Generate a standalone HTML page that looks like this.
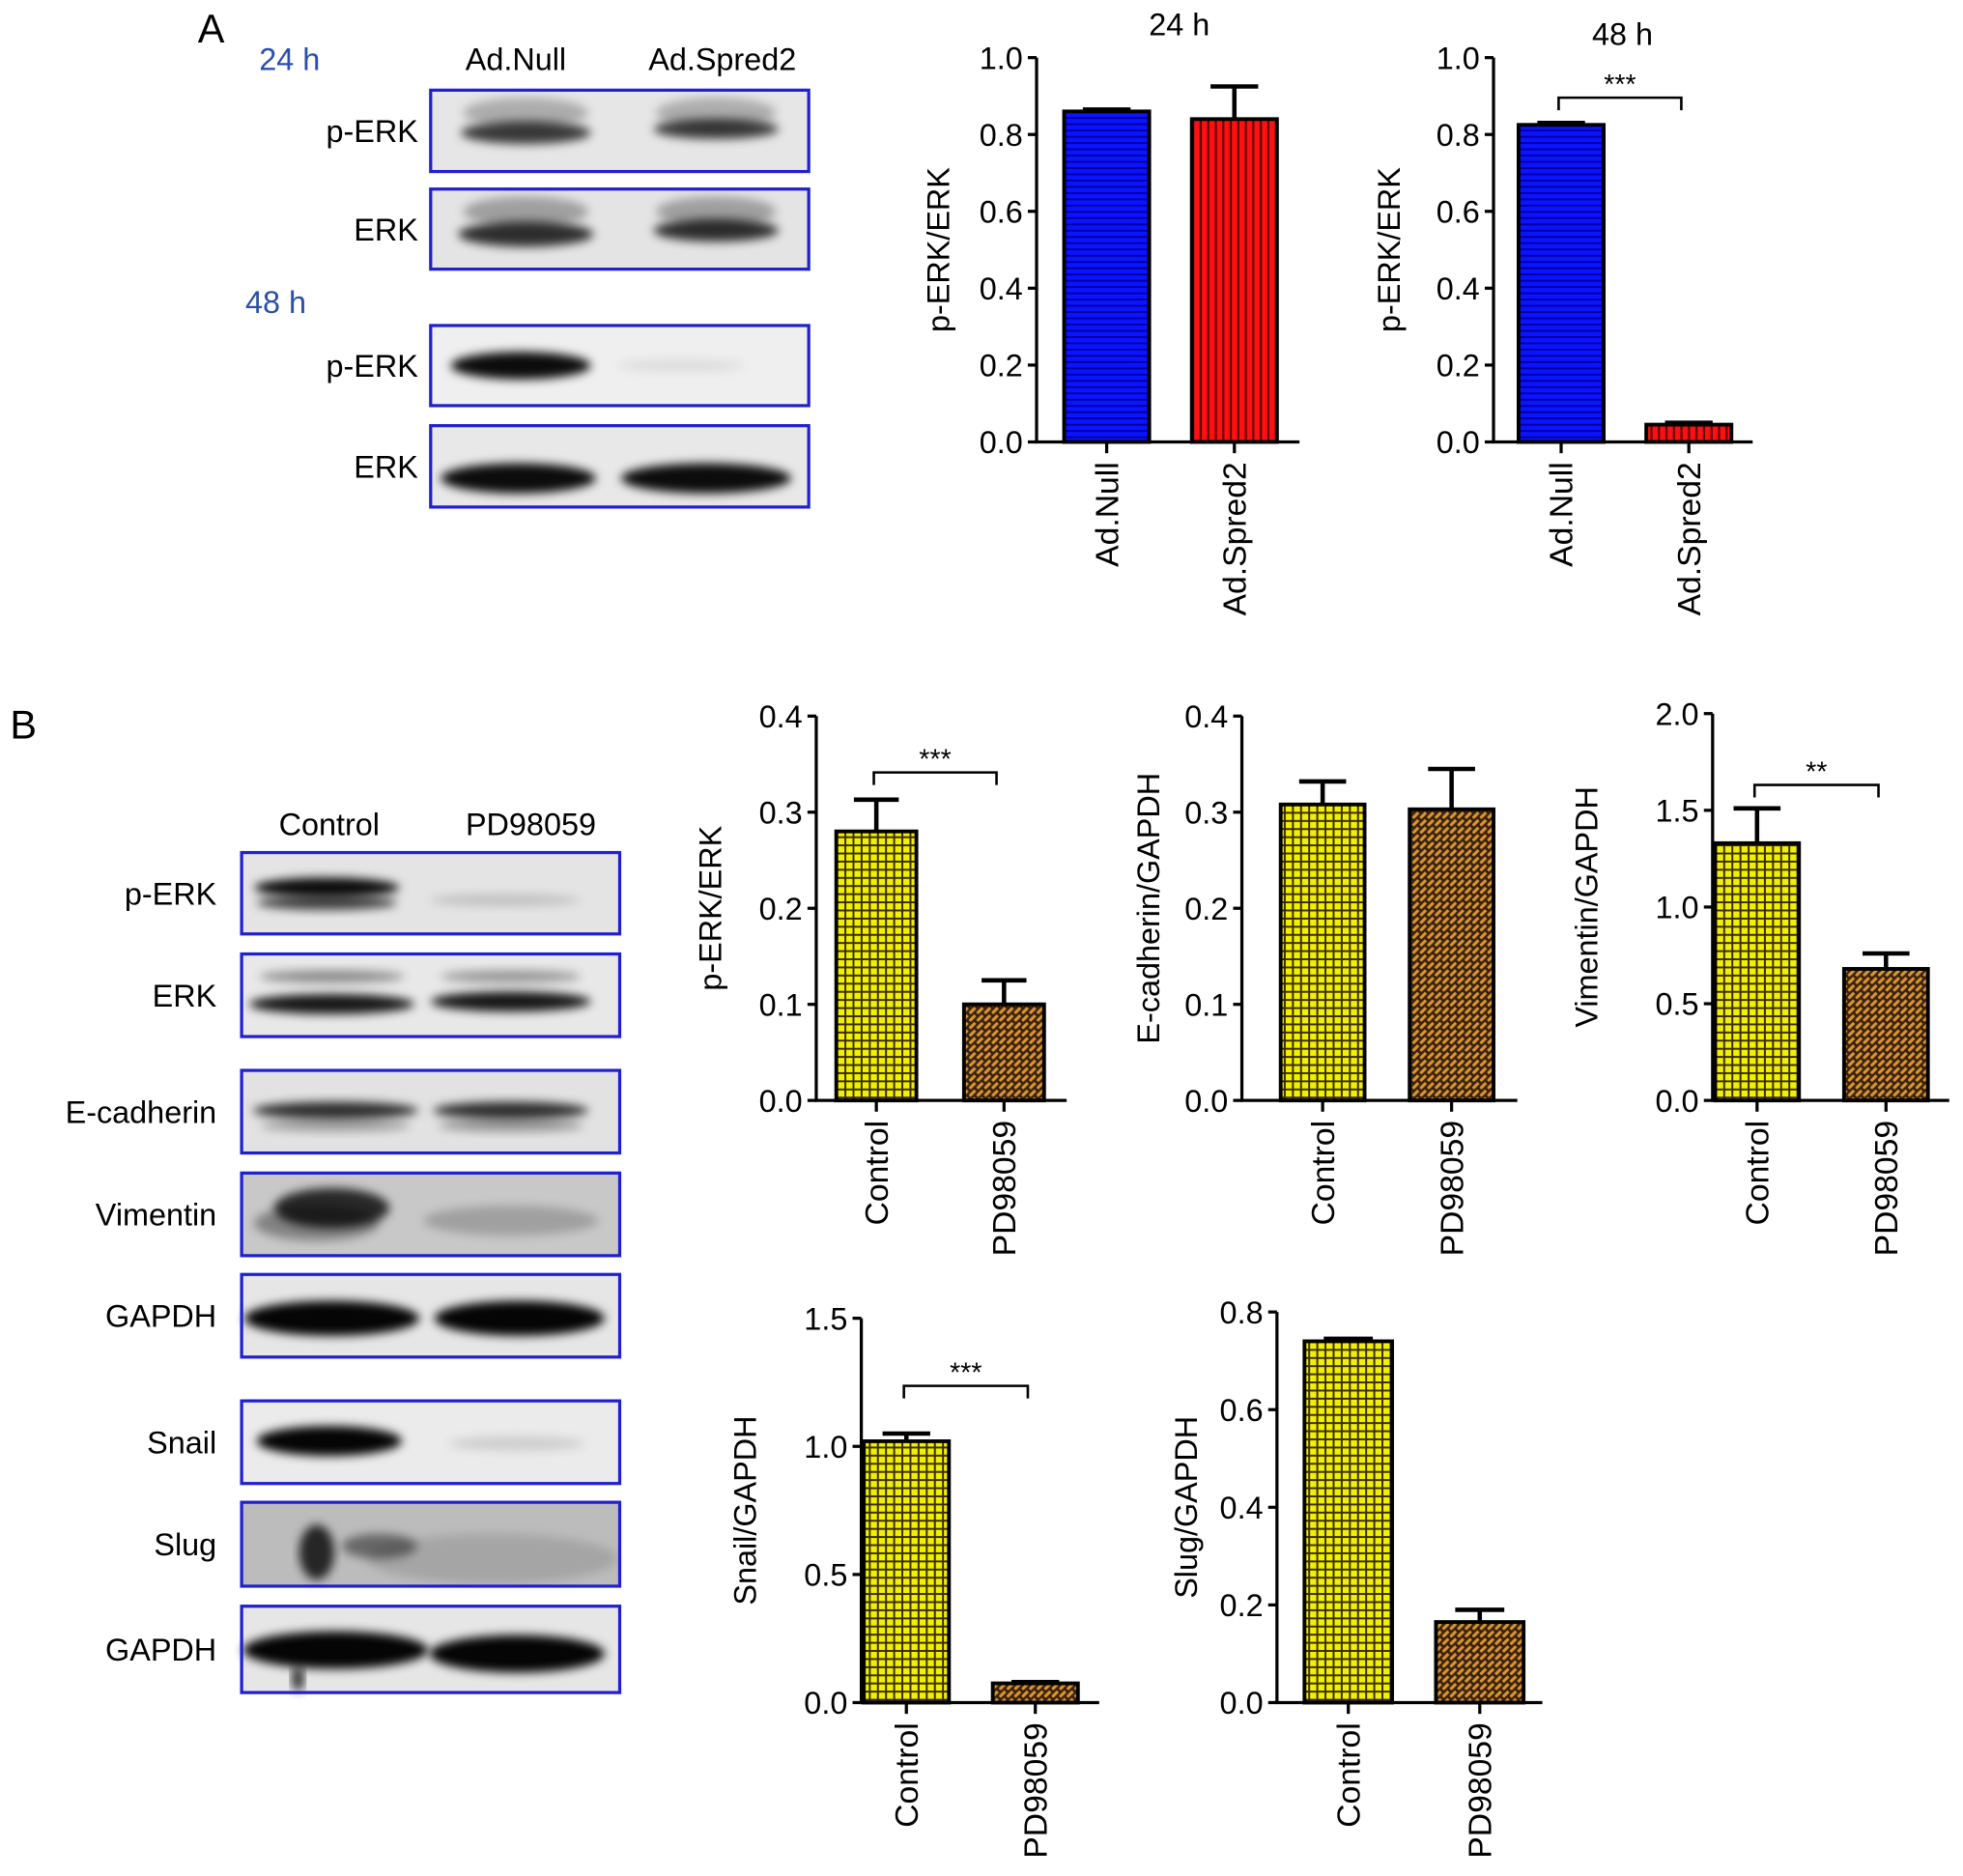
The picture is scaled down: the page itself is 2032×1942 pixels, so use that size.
<!DOCTYPE html>
<html><head><meta charset="utf-8"><style>
html,body{margin:0;padding:0;background:#fff}
svg{display:block;font-family:"Liberation Sans",Arial,sans-serif}
</style></head><body>
<svg id="fig" width="2032" height="1942" viewBox="0 0 1568 1498.5" xmlns="http://www.w3.org/2000/svg">
<defs>
<filter id="blur" x="-20%" y="-50%" width="140%" height="200%"><feGaussianBlur stdDeviation="4"/></filter>
<pattern id="pBlue" width="6" height="5" patternUnits="userSpaceOnUse"><rect width="6" height="5" fill="#0a14ff"/><rect y="3.5" width="6" height="1.5" fill="#0000a0"/></pattern>
<pattern id="pRed" width="6" height="6" patternUnits="userSpaceOnUse"><rect width="6" height="6" fill="#ff1010"/><rect x="4.3" width="1.7" height="6" fill="#600000"/></pattern>
<pattern id="pYellow" width="6.5" height="6.5" patternUnits="userSpaceOnUse"><rect width="6.5" height="6.5" fill="#f0f000"/><rect x="5" width="1.5" height="6.5" fill="#3a2a00"/><rect y="5" width="6.5" height="1.5" fill="#3a2a00"/></pattern>
<pattern id="pBrown" width="6" height="6" patternUnits="userSpaceOnUse"><rect width="6" height="6" fill="#3a2210"/><path d="M0.5,5.5 L5,1" stroke="#d9952e" stroke-width="2.4"/></pattern>
</defs>
<g id="blots"></g>
<g id="charts"></g>
</svg>
<script>
const NS="http://www.w3.org/2000/svg";
const svg=document.getElementById('fig');
const blotG=document.getElementById('blots');
const chartG=document.getElementById('charts');
function mk(tag,attrs,parent,text){const e=document.createElementNS(NS,tag);for(const k in attrs)e.setAttribute(k,attrs[k]);if(text!==undefined)e.textContent=text;(parent||svg).appendChild(e);return e;}

// ---- chart data ----
const catsA=["Ad.Null","Ad.Spred2"];
const catsB=["Control","PD98059"];
const valsA24=[0.86,0.84]; const errA24=[0.865,0.925];
const valsA48=[0.825,0.045]; const errA48=[0.83,0.05];
const valsB1=[0.28,0.10]; const errB1=[0.313,0.125];
const valsB2=[0.308,0.303]; const errB2=[0.332,0.345];
const valsB3=[1.33,0.68]; const errB3=[1.51,0.76];
const valsB4=[1.02,0.075]; const errB4=[1.05,0.08];
const valsB5=[0.74,0.165]; const errB5=[0.745,0.19];
const ticksA=["0.0","0.2","0.4","0.6","0.8","1.0"];
const ticksB04=["0.0","0.1","0.2","0.3","0.4"];
const ticksB20=["0.0","0.5","1.0","1.5","2.0"];
const ticksB15=["0.0","0.5","1.0","1.5"];
const ticksB08=["0.0","0.2","0.4","0.6","0.8"];

function chart(o){
  const g=mk('g',{},chartG);
  
  
  const ymax=parseFloat(o.ticks[o.ticks.length-1]);
  const y=v=>o.y0-(v/ymax)*(o.y0-o.yTop);
  const xc=i=>o.x0+o.gap+o.bw/2+i*(o.bw+o.gap2);
  o.vals.forEach((v,i)=>{
    const r=mk('rect',{x:xc(i)-o.bw/2,y:y(v),width:o.bw,height:o.y0-y(v),fill:'url(#'+o.fills[i]+')',stroke:'#000','stroke-width':3},g);
    
    
    const e=o.errs[i];
    if(e>v){
      const l=mk('path',{d:`M${xc(i)},${y(v)} V${y(e)} M${xc(i)-o.bw*0.28},${y(e)} H${xc(i)+o.bw*0.28}`,stroke:'#000','stroke-width':3.5,fill:'none'},g);
      
      
    }
  });
  const ax=mk('path',{d:`M${o.x0},${o.yTop} V${o.y0} H${o.xEnd}`,stroke:'#000','stroke-width':2.5,fill:'none'},g);
  
  
  o.ticks.forEach(t=>{
    const ty=y(parseFloat(t));
    mk('line',{x1:o.x0-7,x2:o.x0,y1:ty,y2:ty,stroke:'#000','stroke-width':2.5},g);
    const tx=mk('text',{x:o.x0-11,y:ty+9,'text-anchor':'end','font-size':25},g,t);
    
    
  });
  o.cats.forEach((c,i)=>{
    mk('line',{x1:xc(i),x2:xc(i),y1:o.y0,y2:o.y0+9,stroke:'#000','stroke-width':2.5},g);
    const t=mk('text',{transform:`translate(${xc(i)+9},${o.y0+16}) rotate(-90)`,'text-anchor':'end','font-size':26},g,c);
    
    
  });
  const yl=mk('text',{transform:`translate(${o.ylx},${(o.y0+o.yTop)/2}) rotate(-90)`,'text-anchor':'middle','font-size':25},g,o.ylabel);
  
  
  if(o.title){const t=mk('text',{x:o.title[1],y:o.title[2],'text-anchor':'middle','font-size':25},g,o.title[0]);
    
    }
  if(o.sig){const by=o.sig[1];
    const b=mk('path',{d:`M${xc(0)-2},${by+10} V${by} H${xc(1)-6} V${by+10}`,stroke:'#000','stroke-width':2,fill:'none'},g);
    
    
    const s=mk('text',{x:(xc(0)+xc(1))/2-4,y:by-3,'text-anchor':'middle','font-size':22},g,o.sig[0]);
    
    }
}
chart({name:'chart-a-24h',cats:catsA,vals:valsA24,errs:errA24,ticks:ticksA,fills:['pBlue','pRed'],x0:828,xEnd:1038,yTop:46,y0:353,bw:68,gap:22,gap2:34,ylx:758,ylabel:'p-ERK/ERK',title:['24 h',942,28]});
chart({name:'chart-a-48h',cats:catsA,vals:valsA48,errs:errA48,ticks:ticksA,fills:['pBlue','pRed'],x0:1193,xEnd:1400,yTop:46,y0:353,bw:68,gap:20,gap2:34,ylx:1118,ylabel:'p-ERK/ERK',title:['48 h',1296,36],sig:['***',78]});
chart({name:'chart-b-perk',cats:catsB,vals:valsB1,errs:errB1,ticks:ticksB04,fills:['pYellow','pBrown'],x0:652,xEnd:852,yTop:572,y0:879,bw:64,gap:16,gap2:38,ylx:576,ylabel:'p-ERK/ERK',sig:['***',617]});
chart({name:'chart-b-ecadherin',cats:catsB,vals:valsB2,errs:errB2,ticks:ticksB04,fills:['pYellow','pBrown'],x0:992,xEnd:1212,yTop:572,y0:879,bw:67,gap:31,gap2:36,ylx:926,ylabel:'E-cadherin/GAPDH'});
chart({name:'chart-b-vimentin',cats:catsB,vals:valsB3,errs:errB3,ticks:ticksB20,fills:['pYellow','pBrown'],x0:1368,xEnd:1557,yTop:570,y0:879,bw:67,gap:2,gap2:36,ylx:1276,ylabel:'Vimentin/GAPDH',sig:['**',627]});
chart({name:'chart-b-snail',cats:catsB,vals:valsB4,errs:errB4,ticks:ticksB15,fills:['pYellow','pBrown'],x0:688,xEnd:878,yTop:1053,y0:1360,bw:68,gap:2,gap2:35,ylx:604,ylabel:'Snail/GAPDH',sig:['***',1107]});
chart({name:'chart-b-slug',cats:catsB,vals:valsB5,errs:errB5,ticks:ticksB08,fills:['pYellow','pBrown'],x0:1020,xEnd:1232,yTop:1048,y0:1360,bw:70,gap:22,gap2:35,ylx:956,ylabel:'Slug/GAPDH'});

// ---- blots ----
function txt(x,y,s,attrs,name){const t=mk('text',Object.assign({x:x,y:y,'font-size':25},attrs||{}),blotG,s);return t;}
txt(158,34,'A',{'font-size':32},'panel-label-a');
txt(8,590,'B',{'font-size':32},'panel-label-b');
txt(207,56,'24 h',{fill:'#2a4fa8'},'time-label-24h');
txt(196,250,'48 h',{fill:'#2a4fa8'},'time-label-48h');
txt(412,56,'Ad.Null',{'text-anchor':'middle'},'lane-label');
txt(577,56,'Ad.Spred2',{'text-anchor':'middle'},'lane-label');
txt(263,667,'Control',{'text-anchor':'middle'},'lane-label');
txt(424,667,'PD98059',{'text-anchor':'middle'},'lane-label');
function blot(label,lx,x,y1,y2,bg,bands){
  const g=mk('g',{},blotG);
  
  
  mk('rect',{x:x,y:y1,width:302,height:y2-y1,fill:bg},g);
  bands.forEach(b=>mk('ellipse',{cx:x+b[0],cy:y1+b[1],rx:b[2],ry:b[3],fill:'#000','fill-opacity':b[4],filter:'url(#blur)'},g));
  mk('rect',{x:x,y:y1,width:302,height:y2-y1,fill:'none',stroke:'#2020d0','stroke-width':2.5},g);
  const t=mk('text',{x:lx,y:(y1+y2)/2+9,'text-anchor':'end','font-size':25},g,label);
  
  
}
blot('p-ERK',334,344,72,137,'#e6e6e6',[[76,18,50,12,0.25],[76,34,52,9,0.75],[228,18,48,12,0.25],[228,31,50,8,0.75]]);
blot('ERK',334,344,151,215,'#e4e4e4',[[76,18,50,12,0.3],[76,36,54,10,0.8],[228,18,48,12,0.3],[228,33,50,9,0.8]]);
blot('p-ERK',334,344,260,324,'#efefef',[[72,32,56,11,0.95],[200,32,50,5,0.08]]);
blot('ERK',334,344,340,405,'#e8e8e8',[[70,42,62,12,0.95],[220,42,68,12,0.95]]);
blot('p-ERK',173,193,681,746,'#e4e4e4',[[68,28,58,8,0.95],[68,40,56,6,0.7],[210,38,60,5,0.15]]);
blot('ERK',173,193,762,828,'#e8e8e8',[[72,18,58,5,0.4],[72,40,66,8,0.9],[215,18,56,5,0.35],[215,38,64,8,0.9]]);
blot('E-cadherin',173,193,855,921,'#e2e2e2',[[75,32,66,7,0.8],[75,44,60,5,0.3],[215,32,62,7,0.8],[215,44,58,5,0.35]]);
blot('Vimentin',173,193,937,1003,'#c8c8c8',[[72,28,46,16,0.8],[60,40,50,14,0.35],[215,38,70,12,0.2]]);
blot('GAPDH',173,193,1018,1084,'#e6e6e6',[[72,35,70,14,0.98],[222,35,68,14,0.98]]);
blot('Snail',173,193,1119,1185,'#ebebeb',[[70,32,58,12,0.98],[220,34,54,6,0.12]]);
blot('Slug',173,193,1200,1267,'#bcbcbc',[[60,40,14,22,0.8],[110,35,30,10,0.45],[200,45,100,20,0.12]]);
blot('GAPDH',173,193,1283,1352,'#e6e6e6',[[75,35,74,15,0.98],[220,38,70,15,0.98],[45,58,5,10,0.8]]);
</script>
</body></html>
